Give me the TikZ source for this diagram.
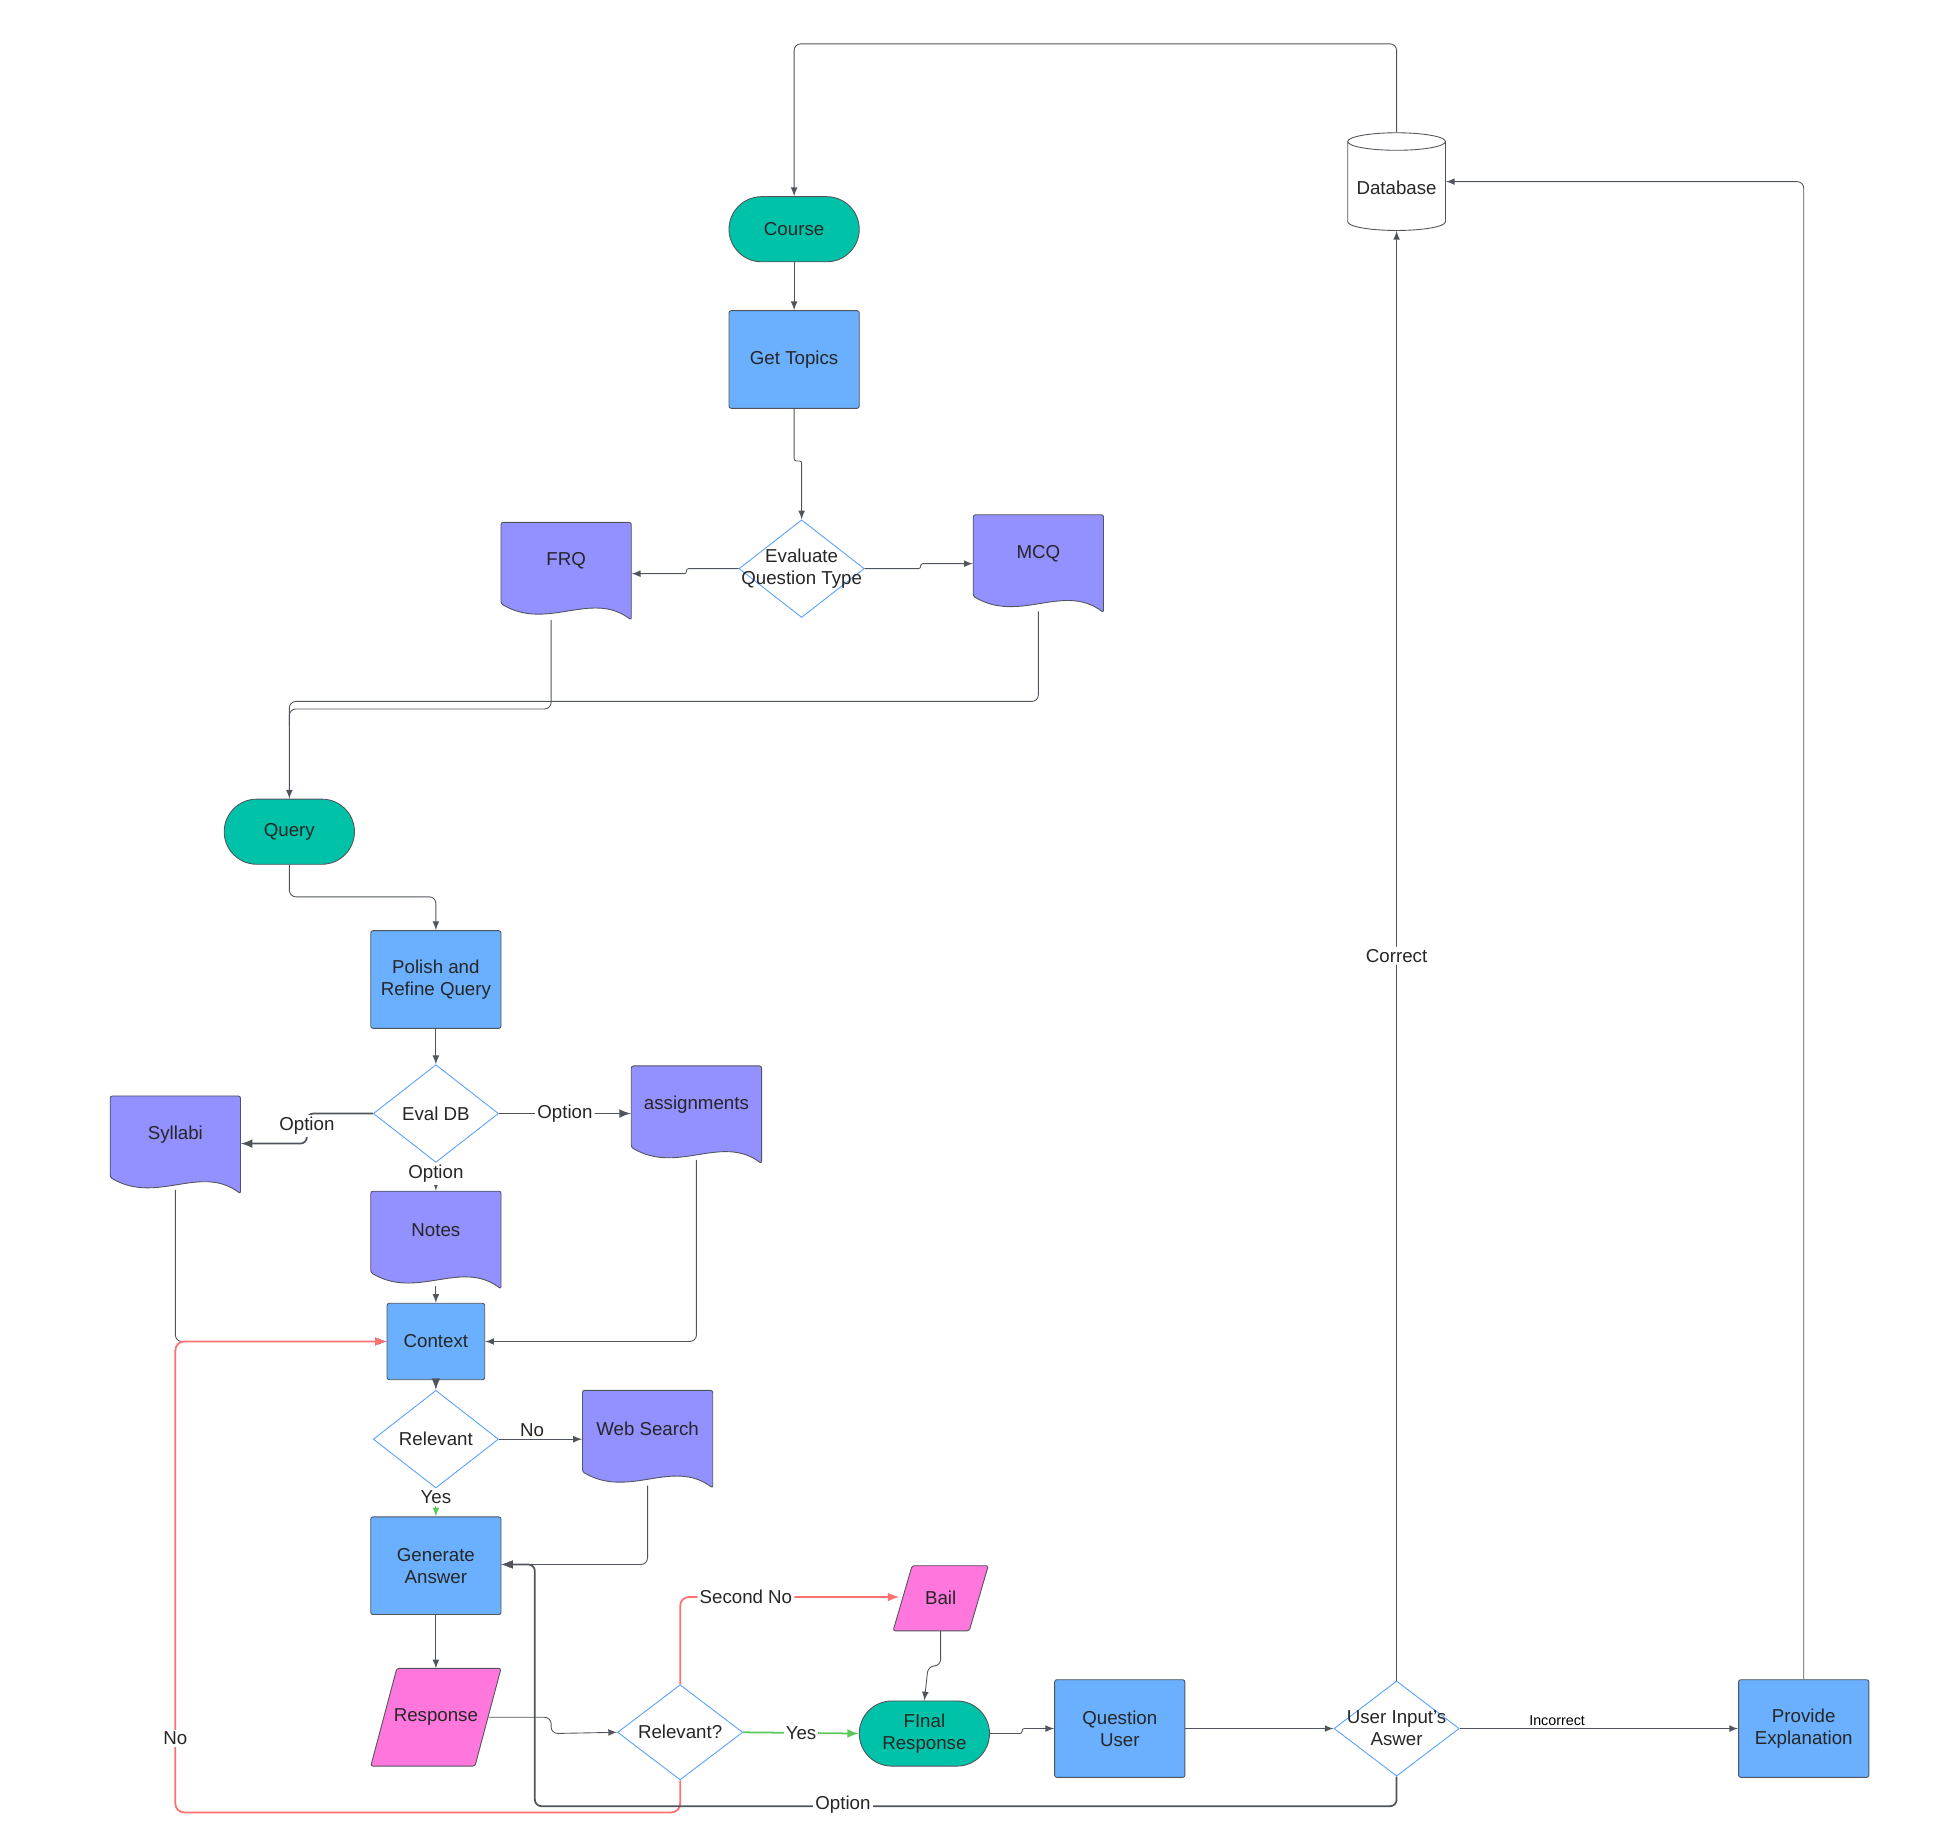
\documentclass[tikz,border=0pt]{standalone}
\usepackage{fontspec}
\setmainfont{Liberation Sans}
\usetikzlibrary{shapes.geometric}
\usetikzlibrary{calc}
\usetikzlibrary{positioning}
\definecolor{termteal}{HTML}{00C2A8}
\definecolor{boxblue}{HTML}{6AB0FF}
\definecolor{docpurple}{HTML}{9390FF}
\definecolor{pinkish}{HTML}{FF77DD}
\definecolor{redline}{HTML}{FF7070}
\definecolor{greenline}{HTML}{5CC85C}
\definecolor{lineg}{HTML}{50545C}
\definecolor{diablue}{HTML}{5AA0FF}

% document shape: name, x, y, text
\newcommand\docnode[4]{%
  \node[docbox] (#1) at (#2,#3) {};
  \draw[docstyle] ($(#2,#3)+(-52,-39)$) -- ++(104,0) -- ++(0,78)
     .. controls ($(#2,#3)+(20,15)$) and ($(#2,#3)+(-15,48)$) .. ($(#2,#3)+(-52,26)$) -- cycle;
  \node[txt] at ($(#2,#3)+(0,-8)$) {#4};
}
% parallelogram: name, x, y, width, height, text
\newcommand\parnode[6]{%
  \node[txt,minimum width=#4*0.02cm,minimum height=#5*0.02cm] (#1) at (#2,#3) {};
  \draw[fill=pinkish,draw=lineg,rounded corners=1pt] ($(#2,#3)+(-#4/2,#5/2)$) -- ++(#4*0.8,0)
     -- ($(#2,#3)+(#4/2,-#5/2)$) -- ++(-#4*0.8,0) -- cycle;
  \node[txt] at (#2,#3) {#6};
}

\begin{document}
\begin{tikzpicture}[x=0.02cm,y=-0.02cm,>=latex,
    txt/.style={font=\fontsize{8.5}{10}\selectfont,align=center,text=black!85},
    proc/.style={txt,rectangle,draw=lineg,fill=boxblue,minimum width=2.08cm,minimum height=1.56cm,rounded corners=1pt},
    term/.style={txt,rectangle,draw=lineg,fill=termteal,rounded corners=0.52cm,minimum width=2.08cm,minimum height=1.04cm},
    dec/.style={txt,diamond,draw=diablue,fill=white,minimum width=2cm,minimum height=1.56cm,inner sep=-6pt,aspect=1.3},
    docbox/.style={rectangle,minimum width=2.08cm,minimum height=1.56cm,inner sep=0pt},
    docstyle/.style={fill=docpurple,draw=lineg,rounded corners=1pt},
    conn/.style={->,draw=lineg,thin,rounded corners=3pt},
    jog/.style={->,draw=lineg,thin,rounded corners=1pt},
    redconn/.style={->,draw=redline,thick,rounded corners=4pt},
    lbl/.style={txt,fill=white,inner sep=1pt},
  ]
  \useasboundingbox (0,0) rectangle (1560,1460);

  % top part
  \node[term] (course) at (634,183) {Course};
  \node[proc] (topics) at (634,287) {Get Topics};
  \node[dec] (evalq) at (640,454) {Evaluate\\Question Type};
  \docnode{frq}{452}{456}{FRQ}
  \docnode{mcq}{829}{450}{MCQ}
  \node[term] (query) at (231,664) {Query};

  % database
  \node[docbox,minimum width=1.56cm] (db) at (1115,145) {};
  \draw[draw=lineg,fill=white] (1076,113) -- (1076,177) arc[start angle=180,end angle=0,x radius=39,y radius=7]
     -- (1154,113);
  \draw[draw=lineg,fill=white] (1115,113) ellipse[x radius=39,y radius=7];
  \node[txt] at (1115,150) {Database};

  % middle part
  \node[proc] (polish) at (348,782) {Polish and\\Refine Query};
  \node[dec] (evaldb) at (348,889) {Eval DB};
  \docnode{syllabi}{140}{914}{Syllabi}
  \docnode{assign}{556}{890}{assignments}
  \docnode{notes}{348}{990}{Notes}
  \node[proc,minimum width=1.56cm,minimum height=1.22cm] (context) at (348,1071) {Context};
  \node[dec] (relev) at (348,1149) {Relevant};
  \docnode{web}{517}{1149}{Web Search}
  \node[proc] (gen) at (348,1250) {Generate\\Answer};

  % bottom part
  \parnode{resp}{348}{1371}{104}{78}{Response}
  \node[dec,minimum height=1.52cm] (relq) at (543,1383) {Relevant?};
  \parnode{bail}{751}{1276}{76}{52}{Bail}
  \node[term] (final) at (738,1384) {FInal\\Response};
  \node[proc] (quser) at (894,1380) {Question\\User};
  \node[dec,minimum height=1.52cm] (uans) at (1115,1380) {User Input's\\Aswer};
  \node[proc] (expl) at (1440,1380) {Provide\\Explanation};

  % connectors
  \draw[conn] (db.north) -- (1115,35) -- (634,35) -- (course.north);
  \draw[conn] (course) -- (topics);
  \draw[jog] (topics.south) -- (634,368) -- (640,368) -- (evalq.north);
  \draw[jog] (evalq.west) -- (548,454) -- (548,458) -- (frq.east |- 0,458);
  \draw[jog] (evalq.east) -- (735,454) -- (735,450) -- (mcq.west |- 0,450);
  \draw[conn] (440,495) -- (440,566) -- (231,566) -- (query.north);
  \draw[draw=lineg,rounded corners=3pt] (829,488) -- (829,560) -- (231,560) -- (231,580);
  \draw[conn] (query.south) -- (231,716) -- (348,716) -- (polish.north);
  \draw[conn] (polish) -- (evaldb);
  \draw[conn,thick] (evaldb.west) -- (245,889) -- (245,913) -- (syllabi.east |- 0,913);
  \node[lbl] at (245,899) {Option};
  \draw[conn,thick] (evaldb.east) -- (assign.west |- 0,889) node[lbl,pos=0.5] {Option};
  \draw[conn] (evaldb.south) -- (notes.north) node[lbl,pos=0.4] {Option};
  \draw[conn] (348,1027) -- (context.north);
  \draw[conn] (140,950) -- (140,1071) -- (context.west);
  \draw[conn] (556,926) -- (556,1071) -- (context.east);
  \draw[conn,thick] (context) -- (relev);
  \draw[conn] (relev.east) -- (web.west |- 0,1149) node[lbl,pos=0.4,above] {No};
  \draw[->,draw=greenline] (relev.south) -- (gen.north) node[lbl,pos=0.3] {Yes};
  \draw[conn] (517,1186) -- (517,1249) -- (gen.east |- 0,1249);
  \draw[conn] (gen) -- (348,1332);
  \draw[conn] (390,1371) -- (440,1371) -- (440,1384) -- (relq.west);
  \draw[->,draw=greenline,thick] (relq.east) -- (final.west) node[lbl,pos=0.5] {Yes};
  \draw[redconn] (relq.north) -- (543,1275) -- (718,1275) node[lbl,pos=0.3] {Second No};
  \draw[redconn] (relq.south) -- (543,1447) -- (140,1447) -- (140,1071) -- (context.west);
  \node[lbl] at (140,1388) {No};
  \draw[conn] (751,1302) -- (751,1330) -- (741,1330) -- (final.north);
  \draw[jog] (final.east) -- (816,1384) -- (816,1380) -- (quser.west);
  \draw[conn] (quser.east) -- (uans.west);
  \draw[conn] (uans.east) -- (expl.west) node[pos=0.35,above=-2pt,font=\fontsize{6.5}{7}\selectfont] {Incorrect};
  \draw[conn] (uans.north) -- (db.south) node[lbl,pos=0.5] {Correct};
  \draw[conn] (expl.north) -- (1440,145) -- (db.east);
  \draw[conn,thick] (uans.south) -- (1115,1442) -- (427,1442) -- (427,1249) -- (gen.east |- 0,1249);
  \node[lbl] at (673,1441) {Option};
\end{tikzpicture}
\end{document}
